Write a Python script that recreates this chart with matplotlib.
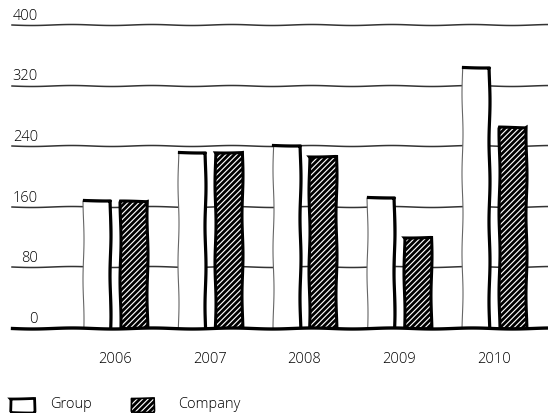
import matplotlib
matplotlib.use("Agg")
import matplotlib.pyplot as plt
from matplotlib.patches import Rectangle
from matplotlib.transforms import blended_transform_factory
import numpy as np

years = ["2006", "2007", "2008", "2009", "2010"]
group = [169, 232, 242, 173, 344]
company = [168, 232, 227, 120, 265]
y_ticks = [0, 80, 160, 240, 320, 400]
legend_labels = ["Group", "Company"]

plt.rcParams["font.family"] = ["Open Sans", "DejaVu Sans"]
plt.rcParams["hatch.linewidth"] = 2.0

W, H = 548, 413
fig = plt.figure(figsize=(W / 100, H / 100), dpi=100)
ax = fig.add_axes([12 / W, 1 - 328 / H, 1 - 12 / W, (328 - 25) / H])
ax.set_xlim(-1.087, 4.57)
ax.set_ylim(0, 400)

sketch = (0.5, 80, 1)
width = 0.285
offset = 0.195
x = np.arange(len(years))
txt_kw = dict(fontsize=10.5, color="black", fontweight="light")

# grid lines, drawn by hand with a little wobble
grid_tr = blended_transform_factory(ax.transAxes, ax.transData)
for v in y_ticks[1:]:
    ln, = ax.plot([0, 1], [v, v], transform=grid_tr,
                  color="#333333", lw=1.1, clip_on=False, zorder=1)
    ln.set_sketch_params(*sketch)

# baseline
base, = ax.plot([0, 1], [0, 0], transform=grid_tr,
                color="black", lw=2.4, clip_on=False, zorder=5)
base.set_sketch_params(*sketch)

# Group bars: light left edge, heavy top and right edges
gbars = ax.bar(x - offset, group, width, color="white", edgecolor="#666666", lw=0.8, zorder=3)
for b in gbars:
    b.set_sketch_params(*sketch)
    x0, x1, h = b.get_x(), b.get_x() + b.get_width(), b.get_height()
    ln, = ax.plot([x0 + 0.01, x1, x1], [h, h, 0], color="black", lw=2.3, zorder=4,
                  solid_joinstyle="round")
    ln.set_sketch_params(*sketch)

# Company bars: dense diagonal hatching with heavy outline
cbars = ax.bar(x + offset, company, width, color="white", edgecolor="black", lw=2.2,
               hatch="//////", zorder=3)
for b in cbars:
    b.set_sketch_params(*sketch)

# y labels sit on the grid lines
ytrans = blended_transform_factory(fig.transFigure, ax.transData)
for v in y_ticks:
    ax.text(38 / W, v + 1.5, str(v), transform=ytrans, ha="right", va="bottom", **txt_kw)

ax.set_yticks([])
ax.set_xticks(x)
ax.set_xticklabels(years, **txt_kw)
ax.tick_params(axis="x", length=0, pad=17)
for s in ax.spines.values():
    s.set_visible(False)

# legend along the bottom edge
lg = Rectangle((10 / W, 1 - 412 / H), 24 / W, 14 / H, transform=fig.transFigure,
               facecolor="white", edgecolor="black", lw=2.0, clip_on=False)
lg.set_sketch_params(*sketch)
fig.add_artist(lg)
lc = Rectangle((131 / W, 1 - 412 / H), 23 / W, 14 / H, transform=fig.transFigure,
               facecolor="white", edgecolor="black", lw=1.2, hatch="//////", clip_on=False)
lc.set_sketch_params(*sketch)
fig.add_artist(lc)
fig.text(50 / W, 1 - 405 / H, legend_labels[0], ha="left", va="center", **txt_kw)
fig.text(178 / W, 1 - 405 / H, legend_labels[1], ha="left", va="center", **txt_kw)

fig.savefig("out.png", dpi=100)
